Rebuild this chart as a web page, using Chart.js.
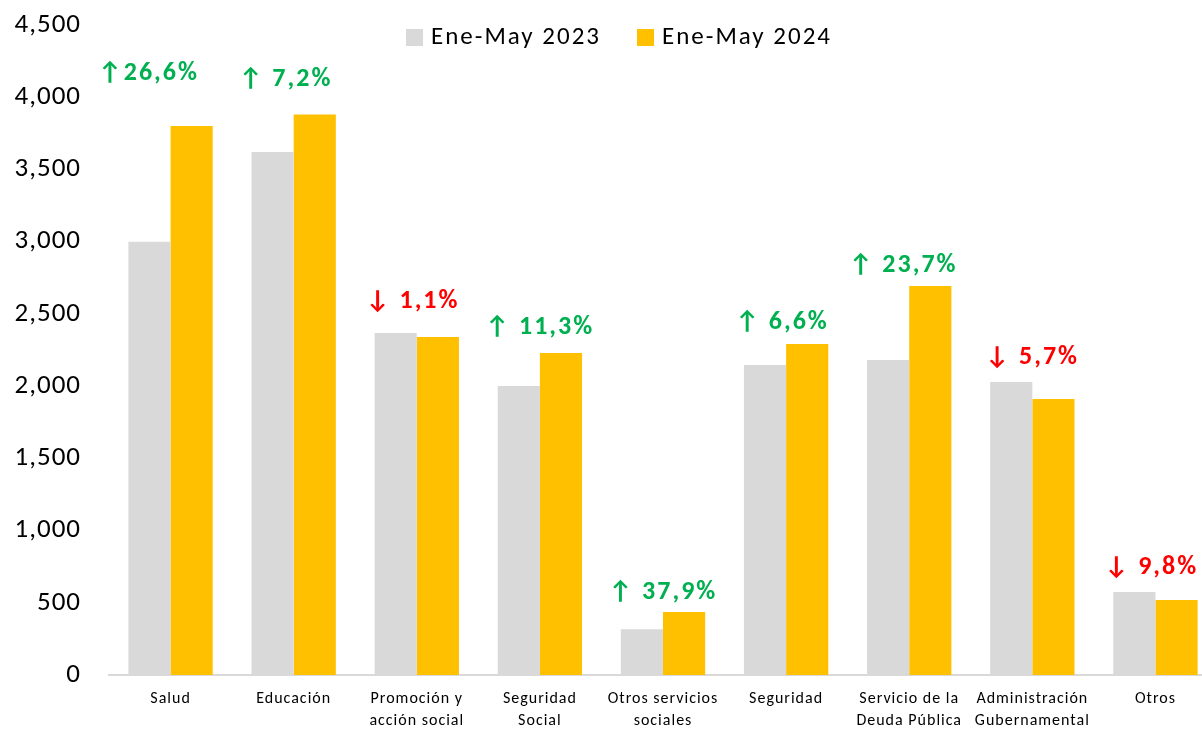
<!DOCTYPE html>
<html>
<head>
<meta charset="utf-8">
<script src="https://cdn.jsdelivr.net/npm/chart.js@4.4.1/dist/chart.umd.min.js"></script>
<style>
  html, body { margin: 0; padding: 0; background: #fff; overflow: hidden; }
  #wrap { position: relative; width: 1217px; height: 731px; }
</style>
</head>
<body>
<div id="wrap"><canvas id="grafico"></canvas></div>
<script>
// Datos (millones)
const categorias = [
    'Salud', 'Educación', ['Promoción y', 'acción social'], ['Seguridad', 'Social'],
    ['Otros servicios', 'sociales'], 'Seguridad', ['Servicio de la', 'Deuda Pública'],
    ['Administración', 'Gubernamental'], 'Otros'
];
const valores2023 = [3000, 3620, 2368, 2001, 316, 2146, 2181, 2028, 575];
const valores2024 = [3800, 3880, 2340, 2229, 436, 2292, 2693, 1911, 519];
const variaciones = ['↑26,6%', '↑ 7,2%', '↓ 1,1%', '↑ 11,3%', '↑ 37,9%', '↑ 6,6%', '↑ 23,7%', '↓ 5,7%', '↓ 9,8%'];
const series = ['Ene-May 2023', 'Ene-May 2024'];
const ticksY = [0, 500, 1000, 1500, 2000, 2500, 3000, 3500, 4000, 4500];

const GRIS = '#D9D9D9';
const AMARILLO = '#FFC000';
const FUENTE = 'Carlito, Lato, "Open Sans", sans-serif';

// separación vertical de cada etiqueta de variación sobre la barra más alta (px)
const elevacion = [53, 35, 31, 26, 20, 21, 21, 25, 24];
const desplazX = [-22, -8, -4, 0, 0, -4, -6, 0, -4];

// un poco de espaciado entre letras en los ejes, como en el original
const espaciadoEjes = {
    id: 'espaciadoEjes',
    beforeDraw(chart) { chart.ctx.letterSpacing = '1px'; },
    beforeDatasetsDraw(chart) { chart.ctx.letterSpacing = '0px'; }
};

const etiquetasVariacion = {
    id: 'etiquetasVariacion',
    afterDatasetsDraw(chart) {
        const { ctx, scales: { x, y } } = chart;
        ctx.save();
        ctx.font = 'bold 26px ' + FUENTE;
        ctx.letterSpacing = '2px';
        ctx.textAlign = 'center';
        ctx.textBaseline = 'middle';
        variaciones.forEach((txt, i) => {
            const tope = Math.max(valores2023[i], valores2024[i]);
            const px = x.getPixelForValue(i) + desplazX[i];
            const py = y.getPixelForValue(tope) - elevacion[i];
            ctx.fillStyle = txt.startsWith('↓') ? '#FF0000' : '#00B050';
            ctx.fillText(txt, px, py);
        });
        ctx.restore();
    }
};

// leyenda dibujada a mano para que quede encima del área del gráfico
const leyenda = {
    id: 'leyenda',
    afterDraw(chart) {
        const { ctx } = chart;
        const colores = [GRIS, AMARILLO];
        const xs = [406, 637];
        ctx.save();
        ctx.font = '25px ' + FUENTE;
        ctx.letterSpacing = '2px';
        ctx.textBaseline = 'middle';
        ctx.textAlign = 'left';
        series.forEach((s, i) => {
            ctx.fillStyle = colores[i];
            ctx.fillRect(xs[i], 29, 17, 17);
            ctx.fillStyle = '#000';
            ctx.fillText(s, xs[i] + 25, 38);
        });
        ctx.restore();
    }
};

new Chart(document.getElementById('grafico'), {
    type: 'bar',
    data: {
        labels: categorias,
        datasets: [{
            label: series[0],
            data: valores2023,
            backgroundColor: GRIS,
            categoryPercentage: 0.685,
            barPercentage: 1
        }, {
            label: series[1],
            data: valores2024,
            backgroundColor: AMARILLO,
            categoryPercentage: 0.685,
            barPercentage: 1
        }]
    },
    options: {
        responsive: true,
        maintainAspectRatio: false,
        animation: false,
        layout: { padding: { top: 25, right: 0, left: 0, bottom: 0 } },
        plugins: {
            legend: { display: false },
            tooltip: { enabled: false }
        },
        scales: {
            x: {
                afterFit: (axis) => { axis.height = 56; },
                grid: { display: false, drawTicks: false },
                border: { display: true, color: '#D9D9D9', width: 2 },
                ticks: {
                    color: '#000',
                    font: { family: FUENTE, size: 16, lineHeight: 1.375 },
                    padding: 13,
                    maxRotation: 0,
                    autoSkip: false
                }
            },
            y: {
                min: 0,
                max: 4500,
                afterBuildTicks: (axis) => { axis.ticks = ticksY.map(v => ({ value: v })); },
                afterFit: (axis) => {
                    axis.paddingTop = 0;
                    axis.paddingBottom = 0;
                    axis.width = 109;
                },
                grid: { display: false, drawTicks: false },
                border: { display: false },
                ticks: {
                    color: '#000',
                    font: { family: FUENTE, size: 27 },
                    padding: 28,
                    callback: (v) => v.toLocaleString('en-US')
                }
            }
        }
    },
    plugins: [espaciadoEjes, etiquetasVariacion, leyenda]
});
</script>
</body>
</html>
